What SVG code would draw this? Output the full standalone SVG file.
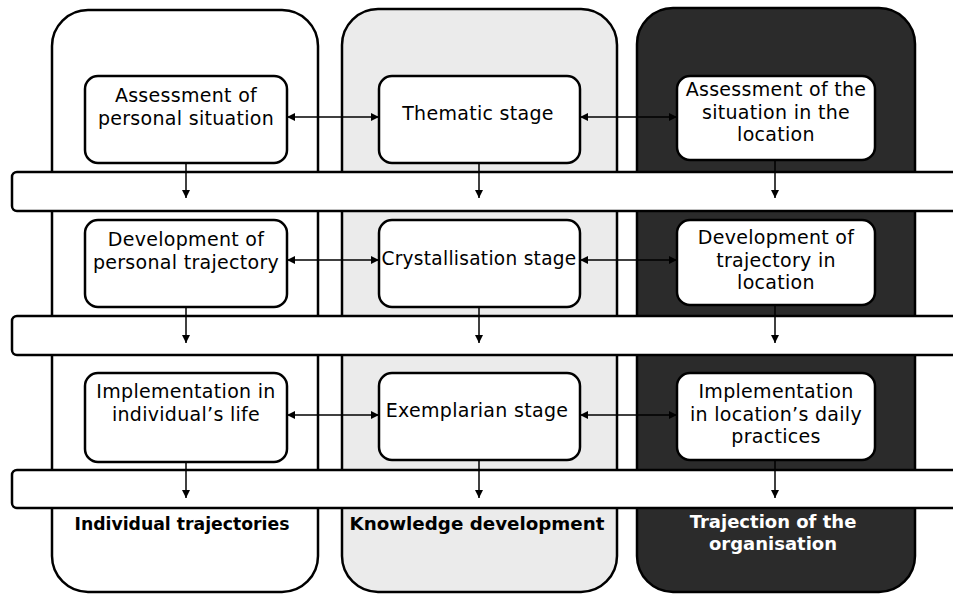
<svg xmlns="http://www.w3.org/2000/svg" width="953" height="594" viewBox="0 0 953 594">
<style>
.col{stroke:#000;stroke-width:2.5}
.band{fill:#fff;stroke:#000;stroke-width:2.5}
.box{fill:#fff;stroke:#000;stroke-width:2.5}
.t{font-family:"DejaVu Sans",sans-serif;font-size:19px;letter-spacing:0.3px;text-anchor:middle;fill:#000}
.lbl{font-family:"DejaVu Sans",sans-serif;font-size:18px;font-weight:bold;text-anchor:middle}
.c{fill:none;stroke:#000;stroke-width:1.5}
</style>
<defs>
<marker id="ah" viewBox="0 0 10 10" refX="10" refY="5" markerWidth="9" markerHeight="8" markerUnits="userSpaceOnUse" orient="auto-start-reverse">
<path d="M0,0 L10,5 L0,10 z" fill="#000"/>
</marker>
</defs>
<g id="columns">
<g id="col-individual"><rect class="col" x="52" y="10" width="266" height="582" rx="36" fill="#fff"/></g>
<g id="col-knowledge"><rect class="col" x="342" y="9" width="275" height="583" rx="36" fill="#ebebeb"/></g>
<g id="col-organisation"><rect class="col" x="637" y="8" width="278" height="584" rx="36" fill="#2b2b2b"/></g>
</g>
<g id="bands">
<rect class="band" x="12" y="172" width="960" height="39" rx="5"/>
<rect class="band" x="12" y="316" width="960" height="39" rx="5"/>
<rect class="band" x="12" y="470" width="960" height="38" rx="5"/>
</g>
<g id="connectors">
<line class="c" x1="287" y1="117" x2="379" y2="117" marker-start="url(#ah)" marker-end="url(#ah)"/>
<line class="c" x1="580" y1="117" x2="677" y2="117" marker-start="url(#ah)" marker-end="url(#ah)"/>
<line class="c" x1="287" y1="260" x2="379" y2="260" marker-start="url(#ah)" marker-end="url(#ah)"/>
<line class="c" x1="580" y1="260" x2="677" y2="260" marker-start="url(#ah)" marker-end="url(#ah)"/>
<line class="c" x1="287" y1="415" x2="379" y2="415" marker-start="url(#ah)" marker-end="url(#ah)"/>
<line class="c" x1="580" y1="415" x2="677" y2="415" marker-start="url(#ah)" marker-end="url(#ah)"/>
<line class="c" x1="186" y1="163" x2="186" y2="198" marker-end="url(#ah)"/>
<line class="c" x1="479" y1="163" x2="479" y2="198" marker-end="url(#ah)"/>
<line class="c" x1="775" y1="160" x2="775" y2="198" marker-end="url(#ah)"/>
<line class="c" x1="186" y1="307" x2="186" y2="343" marker-end="url(#ah)"/>
<line class="c" x1="479" y1="307" x2="479" y2="343" marker-end="url(#ah)"/>
<line class="c" x1="775" y1="305" x2="775" y2="343" marker-end="url(#ah)"/>
<line class="c" x1="186" y1="462" x2="186" y2="498" marker-end="url(#ah)"/>
<line class="c" x1="479" y1="460" x2="479" y2="498" marker-end="url(#ah)"/>
<line class="c" x1="775" y1="460" x2="775" y2="498" marker-end="url(#ah)"/>
</g>
<g id="assessment-personal">
<rect class="box" x="85" y="76" width="202" height="87" rx="13"/>
<text class="t" x="186" y="102">Assessment of</text>
<text class="t" x="186" y="125">personal situation</text>
</g>
<g id="thematic-stage">
<rect class="box" x="379" y="76" width="201" height="87" rx="13"/>
<text class="t" x="478" y="120">Thematic stage</text>
</g>
<g id="assessment-location">
<rect class="box" x="677" y="76" width="198" height="84" rx="13"/>
<text class="t" x="776" y="96">Assessment of the</text>
<text class="t" x="776" y="118.5">situation in the</text>
<text class="t" x="776" y="141">location</text>
</g>
<g id="development-personal">
<rect class="box" x="85" y="220" width="202" height="87" rx="13"/>
<text class="t" x="186" y="246">Development of</text>
<text class="t" x="186" y="268.5">personal trajectory</text>
</g>
<g id="crystallisation-stage">
<rect class="box" x="379" y="220" width="201" height="87" rx="13"/>
<text class="t" x="479" y="265" textLength="195" lengthAdjust="spacingAndGlyphs">Crystallisation stage</text>
</g>
<g id="development-location">
<rect class="box" x="677" y="220" width="198" height="85" rx="13"/>
<text class="t" x="776" y="244">Development of</text>
<text class="t" x="776" y="266.5">trajectory in</text>
<text class="t" x="776" y="289">location</text>
</g>
<g id="implementation-individual">
<rect class="box" x="85" y="373" width="202" height="89" rx="13"/>
<text class="t" x="186" y="398">Implementation in</text>
<text class="t" x="186" y="421">individual’s life</text>
</g>
<g id="exemplarian-stage">
<rect class="box" x="379" y="373" width="201" height="87" rx="13"/>
<text class="t" x="477" y="417">Exemplarian stage</text>
</g>
<g id="implementation-location">
<rect class="box" x="677" y="373" width="198" height="87" rx="13"/>
<text class="t" x="776" y="398">Implementation</text>
<text class="t" x="776" y="420.5">in location’s daily</text>
<text class="t" x="776" y="443">practices</text>
</g>
<g id="column-labels">
<text class="lbl" x="182" y="530" fill="#000" textLength="215" lengthAdjust="spacingAndGlyphs">Individual trajectories</text>
<text class="lbl" x="477" y="530" fill="#000" textLength="255" lengthAdjust="spacingAndGlyphs">Knowledge development</text>
<text class="lbl" x="773" y="528" fill="#fff">Trajection of the</text>
<text class="lbl" x="773" y="550" fill="#fff">organisation</text>
</g>
</svg>
